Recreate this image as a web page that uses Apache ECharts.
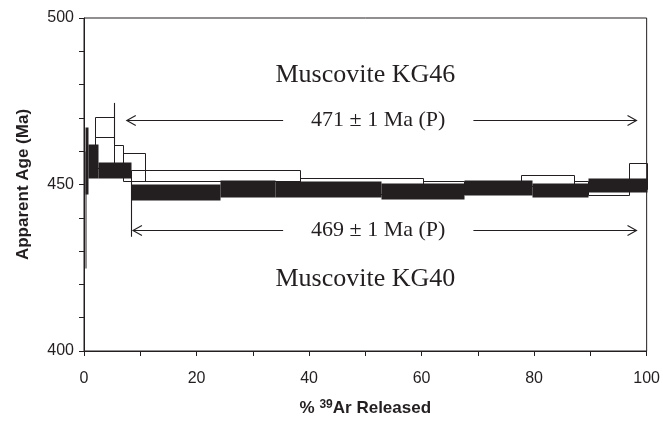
<!DOCTYPE html>
<html>
<head>
<meta charset="utf-8">
<script src="https://cdn.jsdelivr.net/npm/echarts@6/dist/echarts.min.js"></script>
<style>
  html, body { margin: 0; padding: 0; background: #fff; }
  #chart { width: 663px; height: 422px; }
</style>
</head>
<body>
<div id="chart"></div>
<script>
// muscovite KG46 (open boxes): % 39Ar interval and age range (Ma)
const kg46From = [2.0, 2.0, 5.3, 7.0, 8.4, 38.4, 60.3, 67.5, 77.6, 87.0, 89.6, 96.9]
const kg46To = [5.3, 5.3, 7.0, 10.9, 38.4, 60.3, 67.5, 77.6, 87.0, 89.6, 96.9, 100]
const kg46Lo = [464.3, 455.0, 455.0, 451.1, 451.1, 447.0, 447.0, 447.0, 449.5, 447.0, 446.9, 448.5]
const kg46Hi = [470.2, 464.3, 462.0, 459.5, 454.5, 452.1, 451.1, 450.8, 452.9, 451.1, 450.0, 456.5]

// muscovite KG40 (filled boxes)
const kg40From = [0.2, 0.1, 0.75, 2.5, 8.4, 24.2, 34.0, 52.8, 67.5, 79.7, 89.6]
const kg40To = [0.4, 0.75, 2.5, 8.4, 24.2, 34.0, 52.8, 67.5, 79.7, 89.6, 100]
const kg40Lo = [425, 447.1, 452.1, 452.1, 445.4, 446.2, 446.2, 445.7, 446.7, 446.2, 447.8]
const kg40Hi = [460, 467.4, 462.2, 456.8, 450.3, 451.5, 451.2, 450.6, 451.3, 450.6, 452.1]

// plateau markers
const plateauStart = [5.3, 8.4]
const plateauEnd = [98.2, 98.2]
const plateauLabels = ['471 ± 1 Ma (P)', '469 ± 1 Ma (P)']
const sampleLabels = ['Muscovite KG46', 'Muscovite KG40']

const xTicks = [0, 20, 40, 60, 80, 100]
const yTicks = [400, 450, 500]

const ink = '#231f20'
const sans = '"Liberation Sans", Arial, sans-serif'
const serif = '"Liberation Serif", "Times New Roman", serif'

function boxSeries(name, from, to, lo, hi, style) {
  return {
    name: name,
    type: 'custom',
    clip: false,
    data: from.map((f, i) => [f, to[i], lo[i], hi[i]]),
    encode: { x: [0, 1], y: [2, 3] },
    renderItem(params, api) {
      const a = api.coord([api.value(0), api.value(3)])
      const b = api.coord([api.value(1), api.value(2)])
      const x0 = Math.round(a[0]) + 0.5
      const y0 = Math.round(a[1]) + 0.5
      return {
        type: 'rect',
        shape: { x: x0, y: y0, width: Math.max(Math.round(b[0]) - Math.round(a[0]), 1), height: Math.round(b[1]) - Math.round(a[1]) },
        style: style
      }
    }
  }
}

// annotation layout (bar extents, arrow level, arrow start, text places)
const markLayout = [
  { barTop: 474.5, barBottom: 462, arrowAge: 469.3, arrowFrom: 7.6, textX: 52.3, nameAge: 482.9 },
  { barTop: 451.1, barBottom: 434.3, arrowAge: 436.3, arrowFrom: 8.7, textX: 52.3, nameAge: 421.5 }
]

const chart = echarts.init(document.getElementById('chart'))
chart.setOption({
  animation: false,
  grid: {
    left: 84,
    right: 16,
    top: 18,
    bottom: 66,
    show: true,
    borderColor: ink,
    borderWidth: 1
  },
  xAxis: {
    type: 'value',
    min: 0,
    max: 100,
    interval: 10,
    name: '% {sup|39}Ar Released',
    nameLocation: 'middle',
    nameGap: 48,
    nameTextStyle: {
      fontFamily: sans, fontSize: 17, fontWeight: 'bold', color: ink,
      rich: { sup: { fontFamily: sans, fontSize: 12, fontWeight: 'bold', color: ink, verticalAlign: 'bottom', padding: [0, 0, 7, 0] } }
    },
    splitLine: { show: false },
    axisLine: { lineStyle: { color: ink, width: 1 } },
    axisTick: { length: 5, lineStyle: { color: ink } },
    axisLabel: {
      margin: 20, fontFamily: sans, fontSize: 16, color: ink,
      formatter: v => xTicks.indexOf(v) >= 0 ? String(v) : ''
    }
  },
  yAxis: {
    type: 'value',
    min: 400,
    max: 500,
    interval: 10,
    name: 'Apparent Age (Ma)',
    nameLocation: 'middle',
    nameRotate: 90,
    nameGap: 52,
    nameTextStyle: { fontFamily: sans, fontSize: 17, fontWeight: 'bold', color: ink },
    splitLine: { show: false },
    axisLine: { lineStyle: { color: ink, width: 1 } },
    axisTick: { length: 5, lineStyle: { color: ink } },
    axisLabel: {
      margin: 10, fontFamily: sans, fontSize: 16, color: ink,
      formatter: v => yTicks.indexOf(v) >= 0 ? String(v) : ''
    }
  },
  series: [
    boxSeries('KG46', kg46From, kg46To, kg46Lo, kg46Hi, { fill: 'none', stroke: ink, lineWidth: 1 }),
    boxSeries('KG40', kg40From, kg40To, kg40Lo, kg40Hi, { fill: ink, stroke: null }),
    {
      name: 'plateau',
      type: 'custom',
      clip: false,
      data: plateauStart.map((s, i) => [s, plateauEnd[i]]),
      encode: { x: [0, 1] },
      renderItem(params, api) {
        const i = params.dataIndex
        const m = markLayout[i]
        const bar0 = api.coord([api.value(0), m.barTop])
        const bar1 = api.coord([api.value(0), m.barBottom])
        const a0 = api.coord([m.arrowFrom, m.arrowAge])
        const a1 = api.coord([api.value(1), m.arrowAge])
        const t = api.coord([m.textX, m.arrowAge])
        const n = api.coord([m.textX - 2.3, m.nameAge])
        const bx = Math.round(bar0[0]) + 0.5
        const ay = Math.round(a0[1]) + 0.5
        const line = { stroke: ink, lineWidth: 1.1, fill: null }
        return {
          type: 'group',
          children: [
            { type: 'line', shape: { x1: bx, y1: bar0[1], x2: bx, y2: bar1[1] }, style: line },
            { type: 'line', shape: { x1: a0[0], y1: ay, x2: a1[0], y2: ay }, style: line },
            { type: 'polyline', shape: { points: [[a0[0] + 9, ay - 5], [a0[0], ay], [a0[0] + 9, ay + 5]] }, style: line },
            { type: 'polyline', shape: { points: [[a1[0] - 9, ay - 5], [a1[0], ay], [a1[0] - 9, ay + 5]] }, style: line },
            {
              type: 'text', x: t[0], y: t[1],
              style: {
                text: plateauLabels[i], fontFamily: serif, fontSize: 22, fill: ink,
                align: 'center', verticalAlign: 'middle',
                backgroundColor: '#fff', padding: [2, 28]
              }
            },
            {
              type: 'text', x: n[0], y: n[1],
              style: {
                text: sampleLabels[i], fontFamily: serif, fontSize: 26, fill: ink,
                align: 'center', verticalAlign: 'middle'
              }
            }
          ]
        }
      }
    }
  ]
})
</script>
</body>
</html>
